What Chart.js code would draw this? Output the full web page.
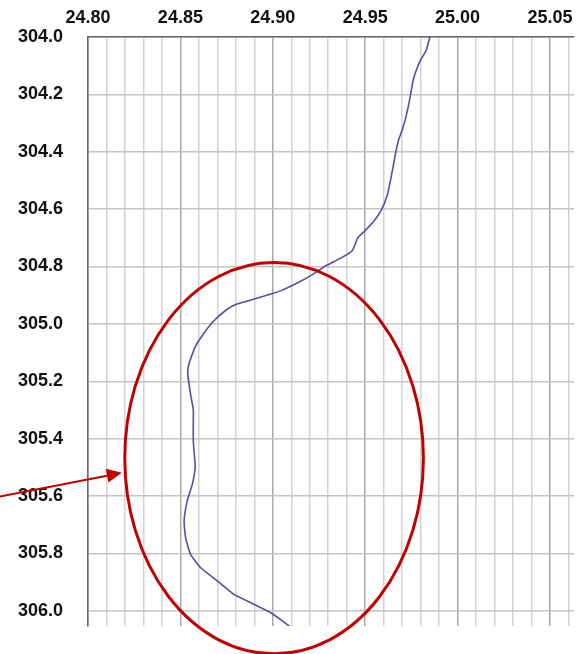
<!DOCTYPE html>
<html>
<head>
<meta charset="utf-8">
<script src="https://cdn.jsdelivr.net/npm/chart.js@4.4.0/dist/chart.umd.min.js"></script>
<style>
  body { margin: 0; background: #fff; }
  #wrap { width: 582px; height: 654px; }
</style>
</head>
<body>
<div id="wrap"><canvas id="profile" width="582" height="654"></canvas></div>
<script>
// profile, top to bottom
const xValues = [24.985, 24.983, 24.980, 24.978, 24.976, 24.974, 24.972, 24.970, 24.968, 24.966,
                 24.964, 24.962, 24.959, 24.955, 24.950, 24.946, 24.943, 24.937, 24.928, 24.921,
                 24.914, 24.9045, 24.899, 24.890, 24.881, 24.8755, 24.868, 24.863, 24.858, 24.8546,
                 24.854, 24.8555, 24.857, 24.857, 24.857, 24.858, 24.8564, 24.8537, 24.852, 24.8528,
                 24.8555, 24.861, 24.870, 24.879, 24.890, 24.899, 24.909];
const depthValues = [304.0, 304.047, 304.08, 304.11, 304.15, 304.22, 304.28, 304.325, 304.36, 304.42,
                     304.49, 304.55, 304.60, 304.64, 304.675, 304.70, 304.745, 304.77, 304.80, 304.83,
                     304.855, 304.884, 304.896, 304.913, 304.93, 304.948, 304.99, 305.03, 305.08, 305.14,
                     305.175, 305.245, 305.30, 305.33, 305.41, 305.50, 305.56, 305.617, 305.687, 305.745,
                     305.803, 305.85, 305.896, 305.943, 305.978, 306.007, 306.053];

const xTickLabels = ['24.80', '24.85', '24.90', '24.95', '25.00', '25.05'];
const yTickLabels = ['304.0', '304.2', '304.4', '304.6', '304.8', '305.0', '305.2', '305.4', '305.6', '305.8', '306.0'];

// minor vertical grid every 0.01
let xGridValues = [];
for (let k = 0; k <= 26; k++) {
    xGridValues.push(Math.round((24.80 + k * 0.01) * 100) / 100);
}

// red marking (in data units)
const ellipseCenter = [24.9007, 305.468];
const ellipseRadius = [0.0808, 0.682];
const arrowFrom = [24.752, 305.602];
const arrowTo = [24.8183, 305.519];

let points = [];
for (let i = 0; i < xValues.length; i++) {
    points.push({x: xValues[i], y: depthValues[i]});
}

const markPlugin = {
    id: 'mark',
    afterDraw(chart) {
        const ctx = chart.ctx;
        const xs = chart.scales.x, ys = chart.scales.y;
        const cx = xs.getPixelForValue(ellipseCenter[0]);
        const cy = ys.getPixelForValue(ellipseCenter[1]);
        const rx = Math.abs(xs.getPixelForValue(ellipseCenter[0] + ellipseRadius[0]) - cx);
        const ry = Math.abs(ys.getPixelForValue(ellipseCenter[1] + ellipseRadius[1]) - cy);
        ctx.save();
        ctx.strokeStyle = '#c00000';
        ctx.fillStyle = '#c00000';
        ctx.lineWidth = 3;
        ctx.beginPath();
        ctx.ellipse(cx, cy, rx, ry, 0, 0, Math.PI * 2);
        ctx.stroke();

        const x1 = xs.getPixelForValue(arrowFrom[0]), y1 = ys.getPixelForValue(arrowFrom[1]);
        const x2 = xs.getPixelForValue(arrowTo[0]), y2 = ys.getPixelForValue(arrowTo[1]);
        const ang = Math.atan2(y2 - y1, x2 - x1);
        const hl = 15, hw = 7;
        const bx = x2 - hl * Math.cos(ang), by = y2 - hl * Math.sin(ang);
        ctx.lineWidth = 2;
        ctx.beginPath();
        ctx.moveTo(x1, y1);
        ctx.lineTo(bx, by);
        ctx.stroke();
        ctx.beginPath();
        ctx.moveTo(x2, y2);
        ctx.lineTo(bx + hw * Math.sin(ang), by - hw * Math.cos(ang));
        ctx.lineTo(bx - hw * Math.sin(ang), by + hw * Math.cos(ang));
        ctx.closePath();
        ctx.fill();
        ctx.restore();
    }
};

new Chart('profile', {
    type: 'scatter',
    data: {
        datasets: [{
            data: points,
            showLine: true,
            borderColor: '#5050a8',
            borderWidth: 1.6,
            pointRadius: 0,
            tension: 0.15
        }]
    },
    options: {
        responsive: false,
        animation: false,
        layout: { padding: { top: 0, left: 0, right: 8, bottom: 28 } },
        plugins: {
            legend: { display: false },
            tooltip: { enabled: false }
        },
        scales: {
            x: {
                position: 'top',
                min: 24.80,
                max: 25.063,
                afterBuildTicks: function(scale) {
                    scale.ticks = xGridValues.map(v => ({value: v}));
                },
                afterFit: function(scale) {
                    scale.height = 37;
                    scale.paddingLeft = 0;
                    scale.paddingRight = 0;
                },
                grid: {
                    drawTicks: false,
                    color: function(c) {
                        const s = c.tick ? c.tick.value.toFixed(2) : '';
                        return xTickLabels.includes(s) ? '#a8a8a8' : '#d2d2d2';
                    },
                    lineWidth: 1.5
                },
                border: { display: true, color: '#666', width: 1.5 },
                ticks: {
                    autoSkip: false,
                    maxRotation: 0,
                    padding: 8,
                    color: '#111',
                    font: { family: 'Liberation Sans, Arial, sans-serif', size: 18, weight: 'bold' },
                    callback: function(v) {
                        const s = Number(v).toFixed(2);
                        return xTickLabels.includes(s) ? s : '';
                    }
                }
            },
            y: {
                reverse: true,
                min: 304.0,
                max: 306.053,
                afterBuildTicks: function(scale) {
                    scale.ticks = yTickLabels.map(s => ({value: parseFloat(s)}));
                },
                afterFit: function(scale) {
                    scale.width = 88;
                    scale.paddingTop = 0;
                    scale.paddingBottom = 0;
                },
                grid: {
                    drawTicks: false,
                    color: '#c4c4c4',
                    lineWidth: 1.5
                },
                border: { display: true, color: '#666', width: 1.5 },
                ticks: {
                    padding: 25,
                    color: '#111',
                    font: { family: 'Liberation Sans, Arial, sans-serif', size: 18, weight: 'bold' },
                    callback: function(v) { return Number(v).toFixed(1); }
                }
            }
        }
    },
    plugins: [markPlugin]
});
</script>
</body>
</html>
